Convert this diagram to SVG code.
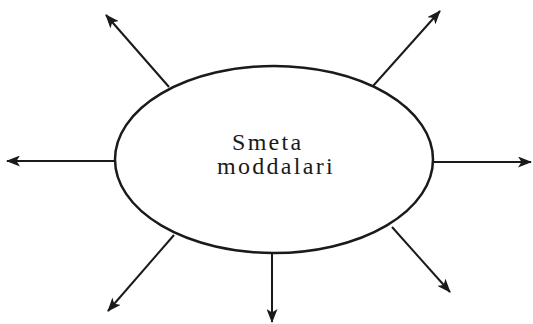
<svg xmlns="http://www.w3.org/2000/svg" width="533" height="324" viewBox="0 0 533 324">
<defs>
<marker id="ah" viewBox="0 0 14 11" refX="13" refY="5.5" markerWidth="14" markerHeight="11" markerUnits="userSpaceOnUse" orient="auto">
<path d="M0,0 L14,5.5 L0,11 L3.5,5.5 Z" fill="#1a1a1a"/>
</marker>
</defs>
<style>
.c{stroke:#1a1a1a;stroke-width:2;fill:none;marker-end:url(#ah)}
.t{font-family:"Liberation Serif",serif;font-size:24px;fill:#1a1a1a;letter-spacing:2.3px}
</style>
<rect width="533" height="324" fill="#fff"/>
<g id="center">
<ellipse cx="274" cy="159.5" rx="159" ry="93.5" fill="none" stroke="#1a1a1a" stroke-width="2.5"/>
<text class="t" x="232" y="150">Smeta</text>
<text class="t" x="217" y="174">moddalari</text>
</g>
<g id="connectors">
<line class="c" x1="169" y1="87" x2="106" y2="15"/>
<line class="c" x1="373" y1="86" x2="440" y2="11"/>
<line class="c" x1="115" y1="161" x2="7" y2="161"/>
<line class="c" x1="433" y1="162" x2="531" y2="162"/>
<line class="c" x1="174" y1="235" x2="108" y2="311"/>
<line class="c" x1="272" y1="253" x2="272" y2="322"/>
<line class="c" x1="392" y1="227" x2="450" y2="292"/>
</g>
</svg>
